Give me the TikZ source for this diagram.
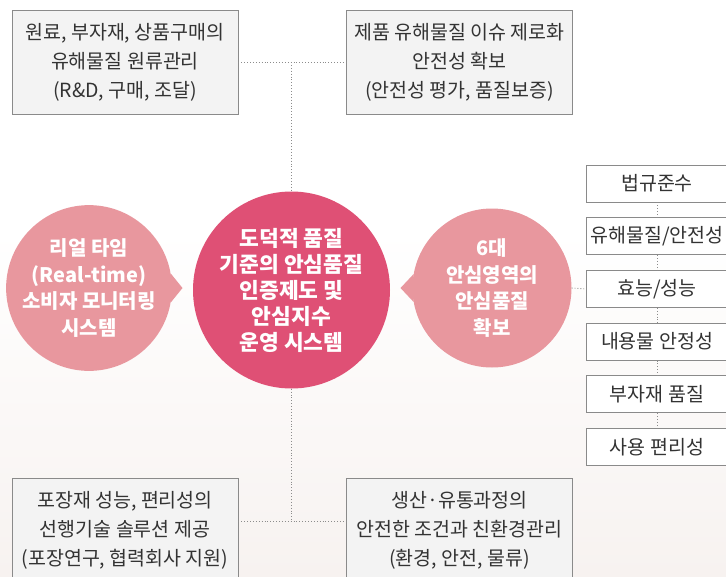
\documentclass[tikz,border=0pt]{standalone}
\usepackage{fontspec}
\newfontfamily\kr{Noto Sans CJK KR}
\definecolor{bigpink}{HTML}{DF5075}
\definecolor{lightpink}{HTML}{E8979E}
\definecolor{boxfill}{HTML}{F3F3F3}
\definecolor{boxline}{HTML}{8A8A8A}
\definecolor{txt}{HTML}{333333}
\definecolor{dotc}{HTML}{8C8C8C}
\definecolor{bgbottom}{HTML}{F7F2F0}
\tikzset{
  infobox/.style={draw=boxline, fill=boxfill, line width=0.9pt, minimum width=226pt, minimum height=104pt, inner sep=0pt, align=center, text=txt, font=\kr\fontsize{19.5}{29}\selectfont},
  listbox/.style={draw=boxline, fill=white, line width=0.9pt, minimum width=142pt, minimum height=37pt, inner sep=0pt, align=center, text=txt, font=\kr\fontsize{19.5}{22}\selectfont},
  bigcirc/.style={circle, fill=bigpink, minimum size=197pt, inner sep=0pt, align=center, text=white, font=\kr\bfseries\fontsize{21.5}{26}\selectfont},
  smallcirc/.style={circle, fill=lightpink, minimum size=159pt, inner sep=0pt, align=center, text=white, font=\kr\bfseries\fontsize{20}{26.5}\selectfont},
  dotline/.style={draw=dotc, line width=0.9pt, dotted}
}
\begin{document}
\begin{tikzpicture}[x=1pt, y=-1pt]
\useasboundingbox (0,0) rectangle (726,576);
\fill[white] (0,0) rectangle (726,576);
\shade[top color=white, bottom color=bgbottom] (0,230) rectangle (726,576);

% boxes
\node[infobox] (tl) at (125,62) {원료, 부자재, 상품구매의\\유해물질 원류관리\\(R\&D, 구매, 조달)};
\node[infobox] (tr) at (459.5,62) {제품 유해물질 이슈 제로화\\안전성 확보\\(안전성 평가, 품질보증)};
\node[infobox] (bl) at (125,530) {포장재 성능, 편리성의\\선행기술 솔루션 제공\\(포장연구, 협력회사 지원)};
\node[infobox] (br) at (459.5,530) {생산·유통과정의\\안전한 조건과 친환경관리\\(환경, 안전, 물류)};

% circles
\node[bigcirc] (c) at (291.5,290) {도덕적 품질\\기준의 안심품질\\인증제도 및\\안심지수\\운영 시스템};
\node[smallcirc] (lc) at (89,288) {리얼 타임\\(Real-time)\\소비자 모니터링\\시스템};
\node[smallcirc] (rc) at (492,288) {6대\\안심영역의\\안심품질\\확보};
\coordinate (ltip) at (182.5,288);
\coordinate (rtip) at (400.5,288);
\fill[lightpink] (lc.10) -- (ltip) -- (lc.-10) -- cycle;
\fill[lightpink] (rc.170) -- (rtip) -- (rc.190) -- cycle;

% list boxes
\node[listbox] (l1) at (657,183.5) {법규준수};
\node[listbox] (l2) at (657,236.2) {유해물질/안전성};
\node[listbox] (l3) at (657,288.9) {효능/성능};
\node[listbox] (l4) at (657,341.6) {내용물 안정성};
\node[listbox] (l5) at (657,394.3) {부자재 품질};
\node[listbox] (l6) at (657,447) {사용 편리성};

% connectors
\draw[dotline] (tl.east) -- (tr.west);
\draw[dotline] (c.north |- tl.east) -- (c.north);
\draw[dotline] (bl.east |- 0,521) coordinate (bm) -- (br.west |- bm);
\draw[dotline] (c.south) -- (c.south |- bm);
\draw[dotline] (rc.east) -- (l3.west);
\draw[dotline] (l1.south) -- (l2.north);
\draw[dotline] (l2.south) -- (l3.north);
\draw[dotline] (l3.south) -- (l4.north);
\draw[dotline] (l4.south) -- (l5.north);
\draw[dotline] (l5.south) -- (l6.north);
\end{tikzpicture}
\end{document}
